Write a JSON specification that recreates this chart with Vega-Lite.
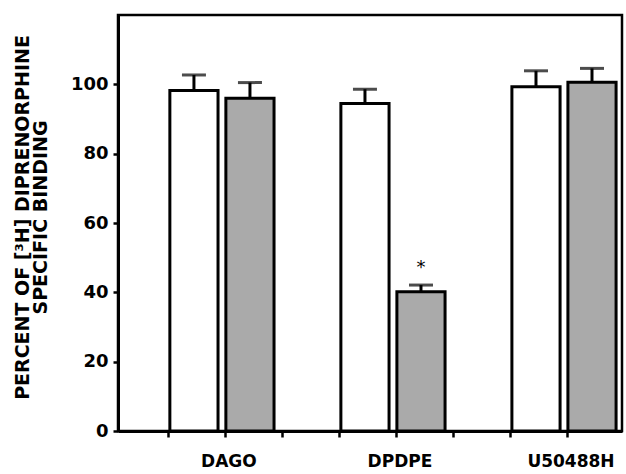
{
  "$schema": "https://vega.github.io/schema/vega-lite/v6.json",
  "autosize": "none",
  "width": 504,
  "height": 416,
  "padding": {"left": 118, "top": 15, "right": 4, "bottom": 43},
  "background": "white",
  "config": {
    "font": "DejaVu Sans",
    "view": {"stroke": "black", "strokeWidth": 2.5},
    "axis": {"grid": false, "domainColor": "black", "tickColor": "black", "labelColor": "black", "titleColor": "black"}
  },
  "data": {
    "values": [
      {"drug": "DAGO", "treatment": "control", "value": 98.2, "err": 4.5, "sig": ""},
      {"drug": "DAGO", "treatment": "treated", "value": 96.0, "err": 4.5, "sig": ""},
      {"drug": "DPDPE", "treatment": "control", "value": 94.5, "err": 4.1, "sig": ""},
      {"drug": "DPDPE", "treatment": "treated", "value": 40.2, "err": 1.9, "sig": "*"},
      {"drug": "U50488H", "treatment": "control", "value": 99.3, "err": 4.6, "sig": ""},
      {"drug": "U50488H", "treatment": "treated", "value": 100.6, "err": 4.0, "sig": ""}
    ]
  },
  "transform": [{"calculate": "datum.value + datum.err", "as": "upper"}],
  "resolve": {"scale": {"x": "independent"}, "axis": {"x": "independent"}},
  "layer": [
    {
      "encoding": {
        "x": {
          "field": "drug", "type": "nominal", "sort": ["DAGO", "DPDPE", "U50488H"],
          "scale": {"paddingInner": 0.345, "paddingOuter": 0.146, "align": 0.96},
          "axis": {"title": null, "labelAngle": 0, "ticks": false, "tickSize": 0, "labelPadding": 22, "labelOffset": 7,
                   "labelFont": "DejaVu Sans", "labelFontWeight": "bold", "labelFontSize": 17,
                   "domainWidth": 3, "labelBaseline": "top"}
        },
        "xOffset": {
          "field": "treatment", "type": "nominal", "sort": ["control", "treated"],
          "scale": {"paddingInner": 0.14, "paddingOuter": 0.07}
        }
      },
      "layer": [
        {
          "mark": {"type": "rule", "strokeWidth": 3, "color": "black"},
          "encoding": {
            "y": {"field": "value", "type": "quantitative"},
            "y2": {"field": "upper"}
          }
        },
        {
          "mark": {"type": "tick", "thickness": 3, "size": 24, "color": "black", "orient": "horizontal"},
          "encoding": {
            "y": {"field": "upper", "type": "quantitative"}
          }
        },
        {
          "mark": {"type": "bar", "stroke": "black", "strokeWidth": 3},
          "encoding": {
            "y": {
              "field": "value", "type": "quantitative",
              "scale": {"domain": [0, 120], "nice": false},
              "axis": {
                "title": ["PERCENT OF [³H] DIPRENORPHINE", "SPECIFIC BINDING"],
                "titleFont": "DejaVu Sans", "titleFontWeight": "bold", "titleFontSize": 19, "titleLineHeight": 18,
                "titlePadding": 20, "titleY": 202,
                "values": [0, 10, 20, 30, 40, 50, 60, 70, 80, 90, 100, 110],
                "labelExpr": "datum.value % 20 === 0 && datum.value <= 100 ? datum.label : ''",
                "labelFont": "DejaVu Sans", "labelFontWeight": "bold", "labelFontSize": 18,
                "tickSize": 5, "tickWidth": 2.5, "labelPadding": 5, "domainWidth": 3
              }
            },
            "fill": {
              "field": "treatment", "type": "nominal",
              "scale": {"domain": ["control", "treated"], "range": ["white", "#aaaaaa"]},
              "legend": null
            }
          }
        },
        {
          "mark": {"type": "text", "fontSize": 18, "dy": -12, "baseline": "alphabetic", "color": "black", "font": "DejaVu Sans"},
          "encoding": {
            "y": {"field": "upper", "type": "quantitative"},
            "text": {"field": "sig"}
          }
        }
      ]
    },
    {
      "mark": {"type": "point", "opacity": 0},
      "encoding": {
        "x": {
          "datum": 0, "type": "quantitative",
          "scale": {"domain": [-0.877, 7.965], "nice": false, "zero": false},
          "axis": {"orient": "bottom", "title": null, "labels": false, "domain": false,
                   "values": [0, 1, 2, 3, 4, 5, 6, 7], "tickSize": 6, "tickWidth": 2.5}
        }
      }
    }
  ]
}
